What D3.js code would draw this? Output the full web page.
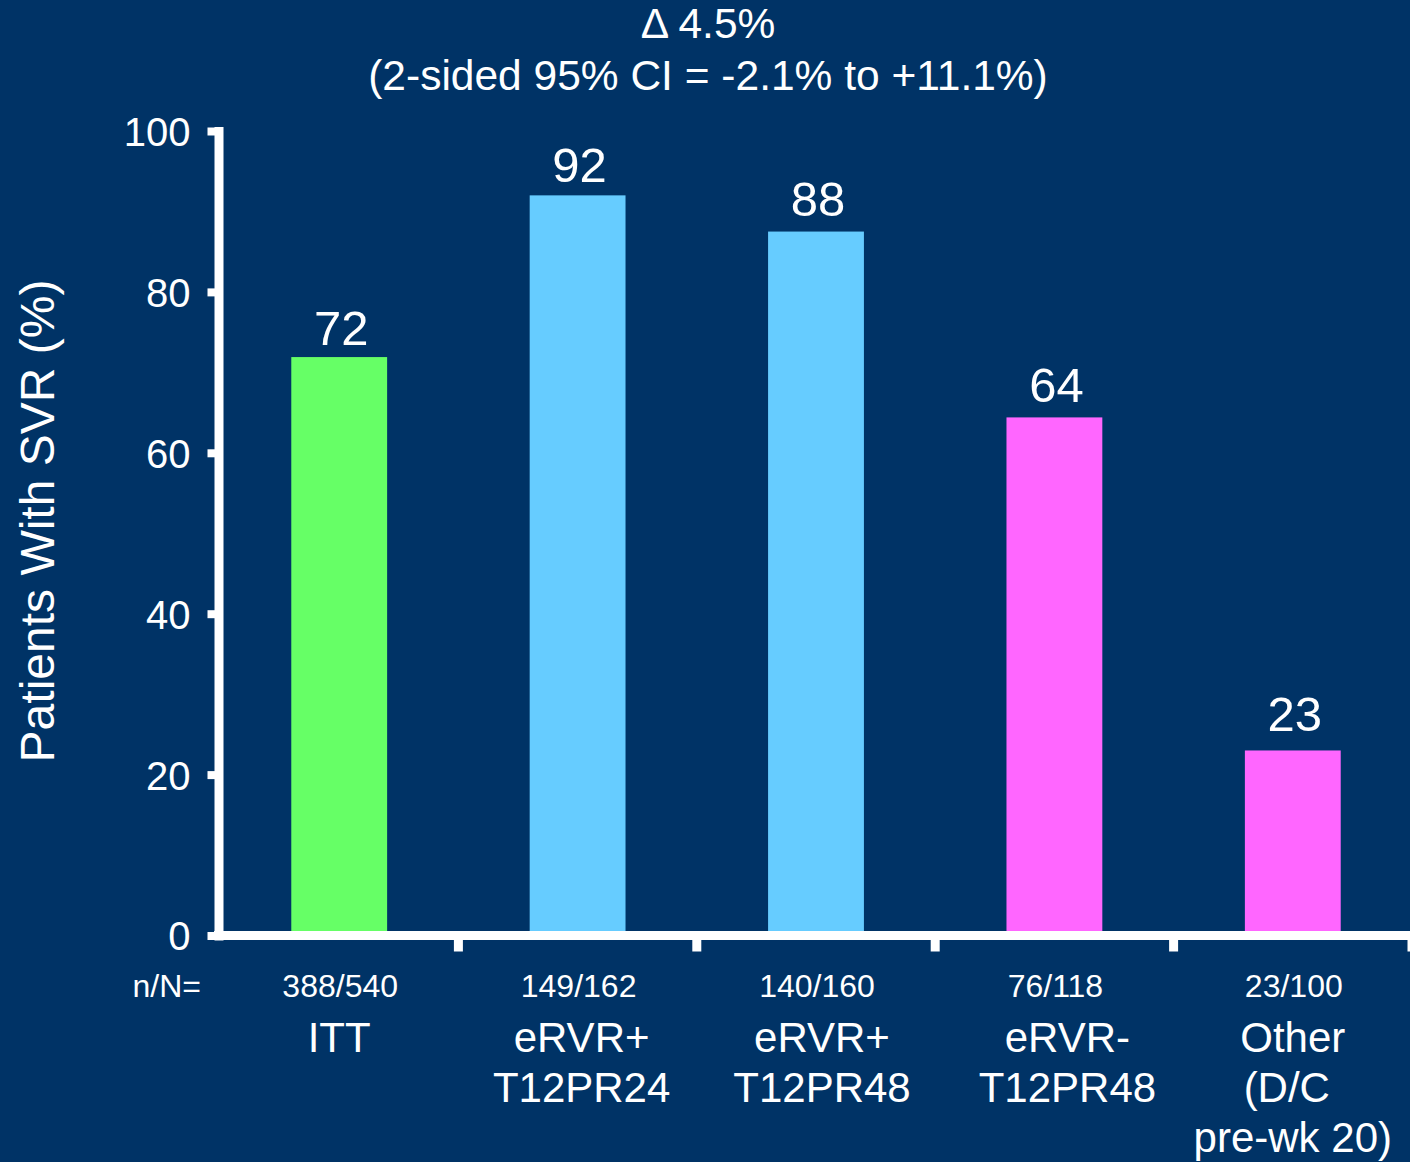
<!DOCTYPE html>
<html>
<head>
<meta charset="utf-8">
<script src="https://cdn.jsdelivr.net/npm/d3@7"></script>
<style>
  html, body { margin: 0; padding: 0; background: #003366; }
  svg { display: block; }
  text { font-family: "Liberation Sans", Arial, sans-serif; fill: #ffffff; }
</style>
</head>
<body>
<svg id="chart" width="1410" height="1162"></svg>
<script>
// ---- data ----
const categories = ["ITT", "eRVR+ T12PR24", "eRVR+ T12PR48", "eRVR- T12PR48", "Other"];
const categoryLines = [["ITT"], ["eRVR+", "T12PR24"], ["eRVR+", "T12PR48"], ["eRVR-", "T12PR48"], ["Other", "(D/C", "pre-wk 20)"]];
const svrValues = [71.9, 92.0, 87.5, 64.4, 23.0];
const valueLabels = ["72", "92", "88", "64", "23"];
const nOverN = ["388/540", "149/162", "140/160", "76/118", "23/100"];
const barColors = ["#66ff66", "#66ccff", "#66ccff", "#ff66ff", "#ff66ff"];
const yTicks = [0, 20, 40, 60, 80, 100];
const titleLines = ["\u0394 4.5%", "(2-sided 95% CI = -2.1% to +11.1%)"];
const yAxisTitle = "Patients With SVR (%)";
const nLabel = "n/N=";

// ---- chart ----
const svg = d3.select("#chart");
const W = 1410, H = 1162;
svg.append("rect").attr("width", W).attr("height", H).attr("fill", "#003366");

const x = d3.scaleBand().domain(categories).range([220, 1412]).paddingInner(0.598).paddingOuter(0.299);
const y = d3.scaleLinear().domain([0, 100]).range([935.5, 131]);

// title
svg.append("g").selectAll("text").data(titleLines).join("text")
  .attr("x", 708).attr("y", (d, i) => 38 + i * 52)
  .attr("text-anchor", "middle").attr("font-size", 42.5)
  .text(d => d);

// bars
svg.append("g").selectAll("rect").data(categories).join("rect")
  .attr("x", d => x(d)).attr("width", x.bandwidth())
  .attr("y", (d, i) => y(svrValues[i]))
  .attr("height", (d, i) => y(0) - y(svrValues[i]))
  .attr("fill", (d, i) => barColors[i]);

// value labels
const labelGap = [12, 13, 16, 15, 19];
svg.append("g").selectAll("text").data(categories).join("text")
  .attr("x", d => x(d) + x.bandwidth() / 2 + 2)
  .attr("y", (d, i) => y(svrValues[i]) - labelGap[i])
  .attr("text-anchor", "middle").attr("font-size", 49)
  .text((d, i) => valueLabels[i]);

// y axis
const yAxis = svg.append("g").attr("transform", "translate(218.5,0)")
  .call(d3.axisLeft(y).tickValues(yTicks).tickSize(11).tickSizeOuter(0).tickPadding(17));
yAxis.select(".domain").attr("stroke", "#fff").attr("stroke-width", 9).attr("stroke-linecap", "square");
yAxis.selectAll(".tick line").attr("stroke", "#fff").attr("stroke-width", 8);
yAxis.selectAll(".tick text").attr("font-size", 40).attr("fill", "#fff")
  .attr("font-family", "Liberation Sans, Arial, sans-serif").attr("dy", "0.36em");

// x axis line + boundary ticks
const step = x.step();
svg.append("line").attr("x1", 214).attr("x2", W).attr("y1", y(0)).attr("y2", y(0))
  .attr("stroke", "#fff").attr("stroke-width", 9);
svg.append("g").selectAll("line").data(categories).join("line")
  .attr("x1", d => x(d) + x.bandwidth() + (step - x.bandwidth()) / 2)
  .attr("x2", d => x(d) + x.bandwidth() + (step - x.bandwidth()) / 2)
  .attr("y1", y(0)).attr("y2", y(0) + 16)
  .attr("stroke", "#fff").attr("stroke-width", 9);

// y axis title
svg.append("text")
  .attr("transform", "translate(54,521) rotate(-90)")
  .attr("text-anchor", "middle").attr("font-size", 48)
  .text(yAxisTitle);

// n/N row
svg.append("text").attr("x", 201).attr("y", 997).attr("text-anchor", "end")
  .attr("font-size", 32).text(nLabel);
svg.append("g").selectAll("text").data(categories).join("text")
  .attr("x", d => x(d) + x.bandwidth() / 2 + 1)
  .attr("y", 997).attr("text-anchor", "middle").attr("font-size", 32)
  .text((d, i) => nOverN[i]);

// category labels
const labelShift = [0, 4, 6, 13, 0];
const lineShift = [[0], [0, 0], [0, 0], [0, 0], [0, -6, 0]];
const catG = svg.append("g").selectAll("text").data(categories).join("text")
  .attr("text-anchor", "middle").attr("font-size", 42);
catG.each(function (d, i) {
  d3.select(this).selectAll("tspan").data(categoryLines[i]).join("tspan")
    .attr("x", (t, j) => x(d) + x.bandwidth() / 2 + labelShift[i] + lineShift[i][j])
    .attr("y", (t, j) => 1052 + j * 50)
    .text(t => t);
});
</script>
</body>
</html>
